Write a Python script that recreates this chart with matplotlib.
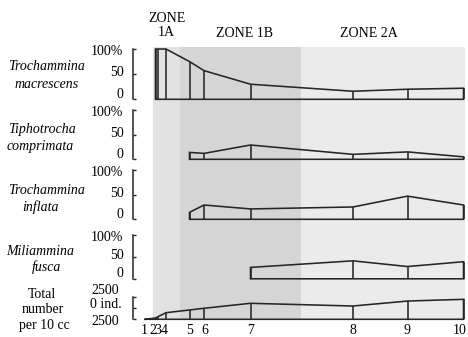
import numpy as np
import matplotlib
matplotlib.use("Agg")
import matplotlib.pyplot as plt

plt.rcParams['font.family'] = ['Liberation Serif', 'DejaVu Serif']

# ---------------- data ----------------
samples = ["1", "2", "3", "4", "5", "6", "7", "8", "9", "10"]
sample_x = [0, 11, 13.5, 21.5, 45, 59.5, 106, 208.5, 263, 319]   # relative depth along transect
nan = np.nan
macrescens = [nan, 100, 100, 100, 75, 57, 30, 16, 20, 22]
tiphotrocha = [nan, nan, nan, nan, 14, 12, 29, 10, 15, 5]
inflata = [nan, nan, nan, nan, 14, 29, 21, 25, 47, 29]
fusca = [nan, nan, nan, nan, nan, nan, 26, 41, 28, 39]
total = [0, 140, 290, 730, 1030, 1220, 1770, 1470, 2020, 2210]

zone_names = ["ZONE\n1A", "ZONE 1B", "ZONE 2A"]
zone_bounds = [8, 35.5, 156.5, 320.5]
zone_colors = ["#e2e2e2", "#d5d5d5", "#ebebeb"]

species_labels = [("Trochammina", "macrescens"), ("Tiphotrocha", "comprimata"),
                  ("Trochammina", "inflata"), ("Miliammina", "fusca")]
pct_ticks = [0, 50, 100]
pct_ticklabels = ["0", "50", "100%"]
tot_ticks = [0, 1250, 2500]
tot_ticklabels = ["2500", "0 ind.", "2500"]

# ---------------- layout ----------------
W, H = 468, 337
fig = plt.figure(figsize=(W / 100, H / 100), dpi=100)
FS = 10
LC = "#262626"
LW = 1.15

def fx(px):
    return px / W

def fy(py):
    return 1 - py / H

XL, XR = -1, 322
AX_LEFT = 143.5

def make_ax(y_bottom, y_top, zorder=2):
    ax = fig.add_axes([fx(AX_LEFT), fy(y_bottom), (XR - XL) / W, (y_bottom - y_top) / H])
    ax.set_xlim(XL, XR)
    ax.patch.set_visible(False)
    ax.set_zorder(zorder)
    return ax

# background zone shading
bg = make_ax(320, 47, zorder=0)
bg.set_ylim(0, 1)
for i in range(3):
    bg.axvspan(zone_bounds[i], zone_bounds[i + 1], color=zone_colors[i], lw=0)
bg.axis("off")

zone_centers = [22, 99.5, 224.5]
for name, cx, yy in zip(zone_names, zone_centers, [25.5, 33.3, 33.3]):
    bg.annotate(name, xy=(cx, 0), xycoords=("data", "axes fraction"),
                xytext=(0, 320 - yy), textcoords="offset pixels",
                ha="center", va="center", fontsize=FS, linespacing=1.1)

def bracket(ax, ticks, bounds):
    for s in ["top", "right", "bottom"]:
        ax.spines[s].set_visible(False)
    ax.spines["left"].set_position(("outward", 10.2 * 72 / 100))
    ax.spines["left"].set_bounds(*bounds)
    ax.spines["left"].set_linewidth(1.1)
    ax.spines["left"].set_color(LC)
    ax.set_xticks([])
    ax.set_yticks(ticks)
    ax.tick_params(axis="y", direction="in", length=2.2, width=1.0,
                   color=LC, labelleft=False)

def kite(ax, values):
    xs = np.array(sample_x, float)
    v = np.array(values, float)
    m = ~np.isnan(v)
    xs, v = xs[m], v[m]
    px = np.concatenate([[xs[0]], xs, [xs[-1]]])
    py = np.concatenate([[0], v, [0]])
    ax.fill(px, py, facecolor="none", edgecolor=LC, lw=LW, clip_on=False,
            joinstyle="miter")
    ax.vlines(xs, 0, v, color=LC, lw=LW, clip_on=False)

panels = [(99.3, 49.0), (159.3, 110.0), (219.3, 170.0), (278.8, 235.0)]
series = [macrescens, tiphotrocha, inflata, fusca]
name_pos = [((46.5, 66.7), (46.7, 85.0)), ((41.5, 130.0), (40.5, 146.7)),
            ((46.5, 190.0), (40.5, 207.0)), ((40.0, 251.7), (46.5, 266.7))]
lab_dy = {100: -2.2, 50: 1.5, 0: 5.2}

for (yb, yt), vals, (n1, n2), pos in zip(panels, series, species_labels, name_pos):
    ax = make_ax(yb, yt)
    ax.set_ylim(0, 100)
    bracket(ax, pct_ticks, (0, 100))
    kite(ax, vals)
    for t, lab in zip(pct_ticks, pct_ticklabels):
        ax.annotate(lab, xy=(0, t), xycoords=("axes fraction", "data"),
                    xytext=(123.5 - AX_LEFT, lab_dy[t]), textcoords="offset pixels",
                    ha="right", va="center", fontsize=FS)
    fig.text(fx(pos[0][0]), fy(pos[0][1]), n1, ha="center", va="center",
             fontsize=FS, style="italic")
    fig.text(fx(pos[1][0]), fy(pos[1][1]), n2, ha="center", va="center",
             fontsize=FS, style="italic")

# total abundance panel
axt = make_ax(319.3, 296.7)
axt.set_ylim(0, 2500)
bracket(axt, tot_ticks, (0, 2500))
kite(axt, total)
tot_dx = [118.5, 121.7, 118.5]
tot_dy = [-2.4, 4.0, 6.7]
for t, lab, dx, dy in zip(tot_ticks, tot_ticklabels, tot_dx, tot_dy):
    axt.annotate(lab, xy=(0, t), xycoords=("axes fraction", "data"),
                 xytext=(dx - AX_LEFT, dy), textcoords="offset pixels",
                 ha="right", va="center", fontsize=FS)
for txt, (px, py) in zip(["Total", "number", "per 10 cc"],
                         [(41.7, 294.0), (42.5, 309.3), (44.0, 326.0)]):
    fig.text(fx(px), fy(py), txt, ha="center", va="center", fontsize=FS)

# sample numbers
label_dx = [-0.5, -3.0, 0.0, -2.0, 0.5, 0.5, 0, 0, 0, -3.5]
for s, x, dx in zip(samples, sample_x, label_dx):
    axt.annotate(s, xy=(x, 0), xycoords="data", xytext=(dx, -11.5),
                 textcoords="offset pixels", ha="center", va="center", fontsize=FS)

fig.savefig("out.png", dpi=100)
